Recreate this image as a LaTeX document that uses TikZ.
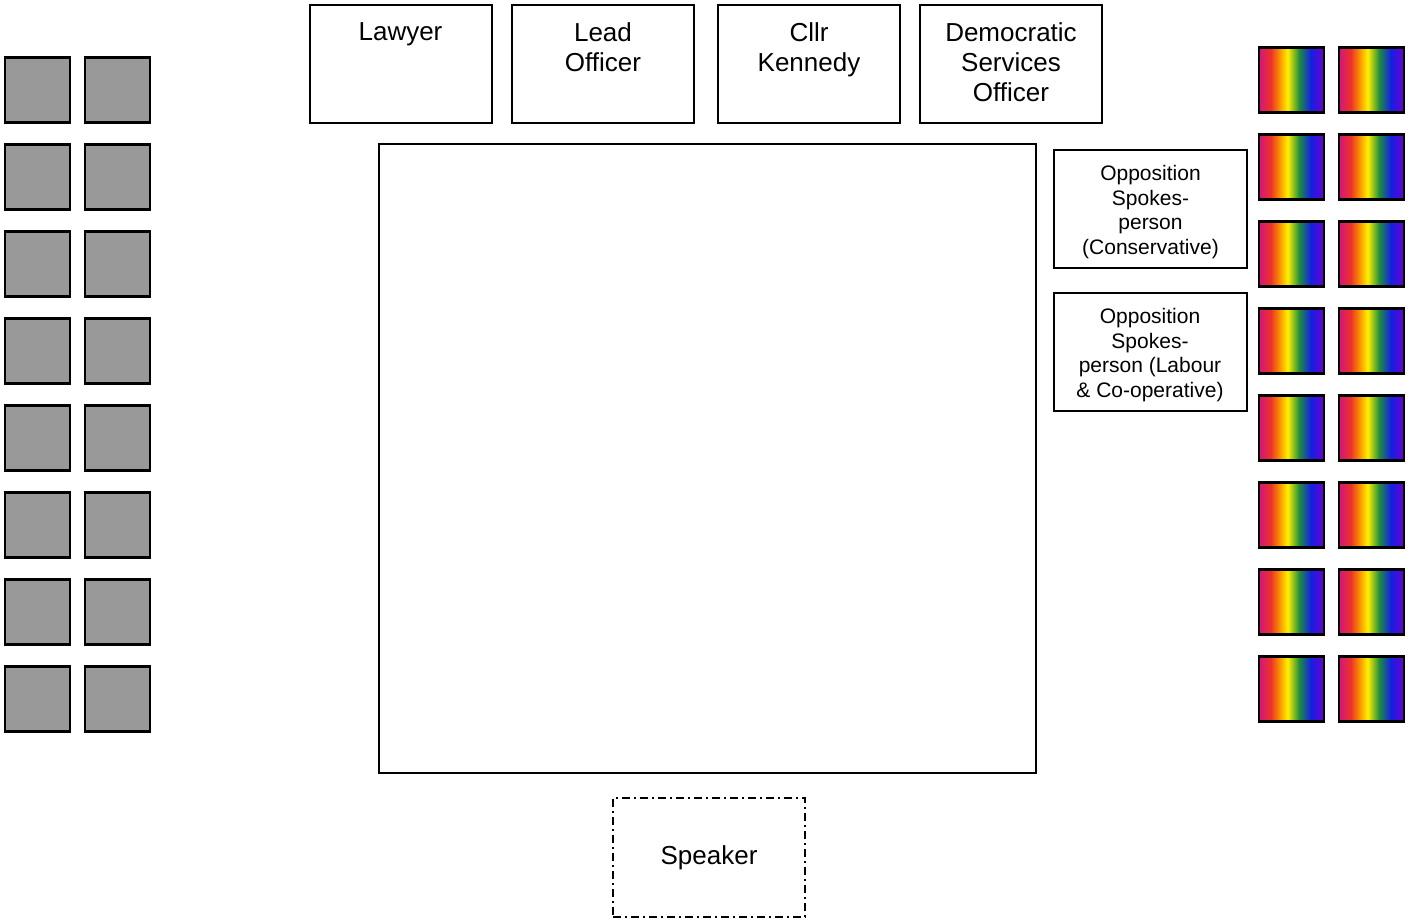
\documentclass[tikz,border=0pt]{standalone}
\usepackage{fontspec}
\setmainfont{Liberation Sans}
\usetikzlibrary{positioning}
\definecolor{rbA}{RGB}{214,20,130}
\definecolor{rbB}{RGB}{236,50,40}
\definecolor{rbC}{RGB}{250,150,0}
\definecolor{rbD}{RGB}{255,240,0}
\definecolor{rbE}{RGB}{30,140,60}
\definecolor{rbF}{RGB}{20,30,230}
\definecolor{rbG}{RGB}{110,0,200}
\pgfdeclarehorizontalshading{rainbow}{100bp}{color(0bp)=(rbA); color(25bp)=(rbA);
  color(34bp)=(rbB); color(41bp)=(rbC); color(47bp)=(rbD); color(56bp)=(rbE);
  color(65bp)=(rbF); color(75bp)=(rbG); color(100bp)=(rbG)}
\begin{document}
\begin{tikzpicture}[x=0.5pt,y=-0.5pt]
\tikzset{seat/.style  = {draw,
                         line width     = 1.3pt,
                         inner sep      = 0pt,
                         minimum size   = 32.5pt},
         grey/.style  = {seat, fill=black!40},
         rainbowseat/.style = {seat, shading=rainbow},
         desk/.style  = {draw,
                         line width     = 1pt,
                         inner sep      = 0pt,
                         minimum width  = 91pt,
                         minimum height = 59pt},
         side/.style  = {desk, minimum width=96.5pt},
         big/.style   = {font=\fontsize{13}{15}\selectfont, align=center, inner sep=0pt},
         small/.style = {font=\fontsize{10.5}{12.25}\selectfont, align=center, inner sep=0pt}}
\useasboundingbox (0,0) rectangle (1415,921);
\coordinate (T1) at (400.5,64);
\coordinate (T2) at (603,64);
\coordinate (T3) at (809,64);
\coordinate (T4) at (1011,64);
\coordinate (S1) at (1150.5,209);
\coordinate (S2) at (1150,352);
% seats on the left
\node[grey] (G1a) at (37.5,90) {};  \node[grey] (G1b) at (117.5,90) {};
\node[grey] (G2a) at (37.5,177) {}; \node[grey] (G2b) at (117.5,177) {};
\node[grey] (G3a) at (37.5,264) {}; \node[grey] (G3b) at (117.5,264) {};
\node[grey] (G4a) at (37.5,351) {}; \node[grey] (G4b) at (117.5,351) {};
\node[grey] (G5a) at (37.5,438) {}; \node[grey] (G5b) at (117.5,438) {};
\node[grey] (G6a) at (37.5,525) {}; \node[grey] (G6b) at (117.5,525) {};
\node[grey] (G7a) at (37.5,612) {}; \node[grey] (G7b) at (117.5,612) {};
\node[grey] (G8a) at (37.5,699) {}; \node[grey] (G8b) at (117.5,699) {};
% seats on the right
\node[rainbowseat] (R1a) at (1291.5,80) {};  \node[rainbowseat] (R1b) at (1371.5,80) {};
\node[rainbowseat] (R2a) at (1291.5,167) {}; \node[rainbowseat] (R2b) at (1371.5,167) {};
\node[rainbowseat] (R3a) at (1291.5,254) {}; \node[rainbowseat] (R3b) at (1371.5,254) {};
\node[rainbowseat] (R4a) at (1291.5,341) {}; \node[rainbowseat] (R4b) at (1371.5,341) {};
\node[rainbowseat] (R5a) at (1291.5,428) {}; \node[rainbowseat] (R5b) at (1371.5,428) {};
\node[rainbowseat] (R6a) at (1291.5,515) {}; \node[rainbowseat] (R6b) at (1371.5,515) {};
\node[rainbowseat] (R7a) at (1291.5,602) {}; \node[rainbowseat] (R7b) at (1371.5,602) {};
\node[rainbowseat] (R8a) at (1291.5,689) {}; \node[rainbowseat] (R8b) at (1371.5,689) {};
% top row
\node[desk] (lawyer) at (T1) {};
\node[desk] (lead) at (T2) {};
\node[desk] (cllr) at (T3) {};
\node[desk] (dso) at (T4) {};
\node[big, below=9pt of lawyer.north] (lawyerT) {Lawyer};
\node[big, below=9pt of lead.north] (leadT) {Lead\\Officer};
\node[big, below=9pt of cllr.north] (cllrT) {Cllr\\Kennedy};
\node[big, below=9pt of dso.north] (dsoT) {Democratic\\Services\\Officer};
% table and side desks
\node[draw, line width=1pt, inner sep=0pt, minimum width=328.5pt, minimum height=314.5pt] (table) at (707.5,458.5) {};
\node[side] (con) at (S1) {};
\node[side] (lab) at (S2) {};
\node[small, below=8pt of con.north] (conT) {Opposition\\Spokes-\\person\\(Conservative)};
\node[small, below=8pt of lab.north] (labT) {Opposition\\Spokes-\\person (Labour\\\& Co-operative)};
\node[big, draw, line width=1pt, dash pattern=on 4pt off 2pt on 1pt off 2pt,
      minimum width=96pt, minimum height=59.5pt] (speaker) at (709,857.5) {Speaker};
\end{tikzpicture}
\end{document}
